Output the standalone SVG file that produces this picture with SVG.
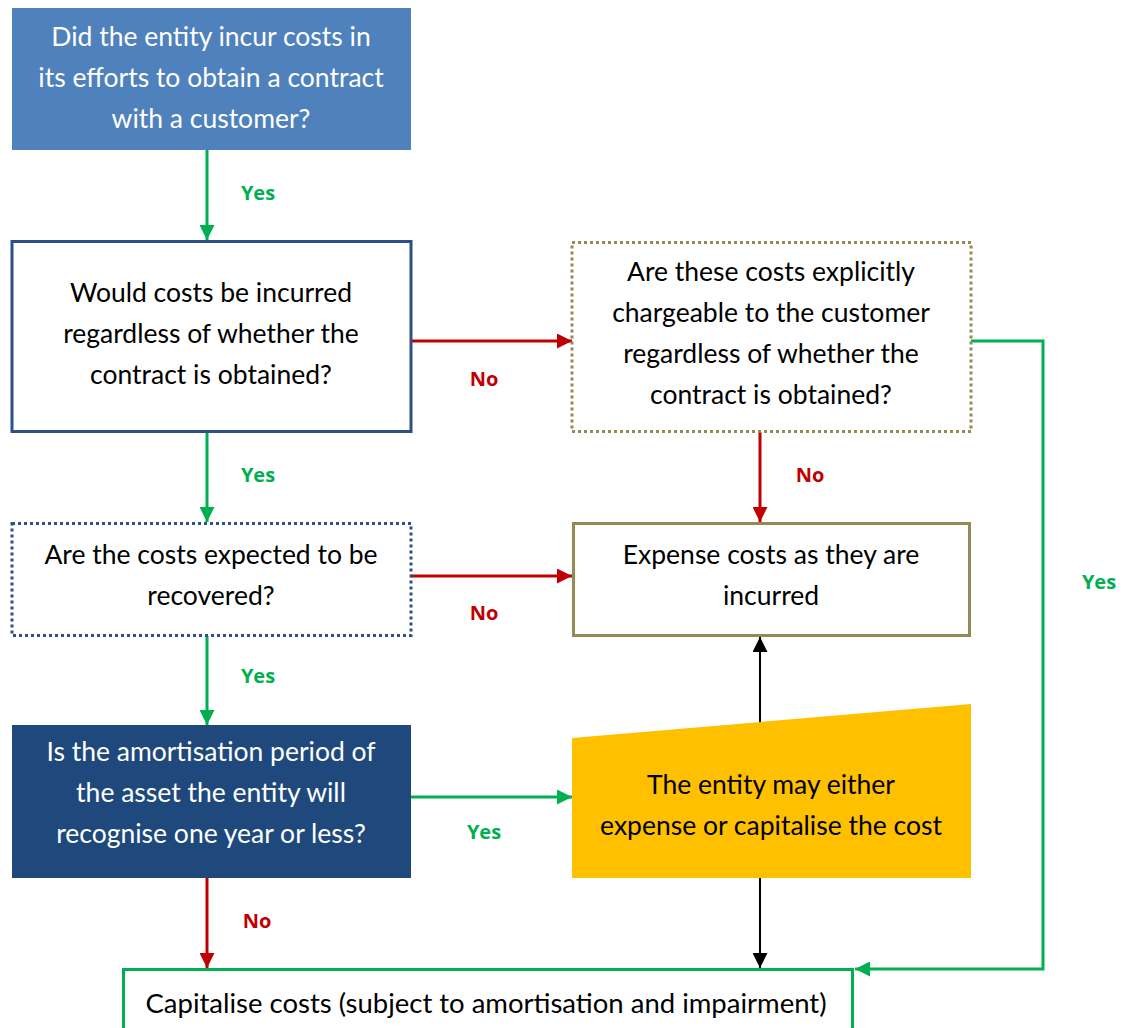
<svg xmlns="http://www.w3.org/2000/svg" width="1126" height="1028" viewBox="0 0 1126 1028">
<defs>
<style>
.t{font-family:Lato,"Open Sans","Liberation Sans",sans-serif;font-size:26.5px;text-anchor:middle;fill:#000}
.w{fill:#fff}
.lbl{font-family:"Open Sans","Liberation Sans",sans-serif;font-size:20px;font-weight:bold;text-anchor:middle}
.g{fill:#00B050}
.r{fill:#C00000}
.lg{stroke:#00B050;stroke-width:3;fill:none}
.lr{stroke:#C00000;stroke-width:3;fill:none}
.lk{stroke:#000;stroke-width:2;fill:none}
</style>
<marker id="ag" viewBox="0 0 10 10" refX="10" refY="5" markerWidth="5.5" markerHeight="5" markerUnits="strokeWidth" orient="auto"><path d="M0,0L10,5L0,10Z" fill="#00B050"/></marker>
<marker id="ar" viewBox="0 0 10 10" refX="10" refY="5" markerWidth="5.5" markerHeight="5" markerUnits="strokeWidth" orient="auto"><path d="M0,0L10,5L0,10Z" fill="#C00000"/></marker>
<marker id="ak" viewBox="0 0 10 10" refX="10" refY="5" markerWidth="7.5" markerHeight="7.5" markerUnits="strokeWidth" orient="auto"><path d="M0,0L10,5L0,10Z" fill="#000"/></marker>
</defs>
<rect width="1126" height="1028" fill="#fff"/>
<g id="connectors">
<line class="lg" x1="207" y1="150" x2="207" y2="240" marker-end="url(#ag)"/>
<line class="lr" x1="411" y1="341" x2="572" y2="341" marker-end="url(#ar)"/>
<polyline class="lg" points="971,341 1043,341 1043,969 855,969" marker-end="url(#ag)"/>
<line class="lr" x1="760" y1="432" x2="760" y2="522" marker-end="url(#ar)"/>
<line class="lg" x1="207" y1="432" x2="207" y2="522" marker-end="url(#ag)"/>
<line class="lr" x1="411" y1="576" x2="572" y2="576" marker-end="url(#ar)"/>
<line class="lg" x1="207" y1="636" x2="207" y2="725" marker-end="url(#ag)"/>
<line class="lg" x1="411" y1="797" x2="572" y2="797" marker-end="url(#ag)"/>
<line class="lk" x1="760" y1="724" x2="760" y2="637" marker-end="url(#ak)"/>
<line class="lk" x1="760" y1="878" x2="760" y2="968" marker-end="url(#ak)"/>
<line class="lr" x1="207" y1="878" x2="207" y2="968" marker-end="url(#ar)"/>
<text class="lbl g" x="258" y="200">Yes</text>
<text class="lbl r" x="484" y="386">No</text>
<text class="lbl g" x="1099" y="589">Yes</text>
<text class="lbl r" x="810" y="482">No</text>
<text class="lbl g" x="258" y="482">Yes</text>
<text class="lbl r" x="484" y="620">No</text>
<text class="lbl g" x="258" y="683">Yes</text>
<text class="lbl g" x="484" y="839">Yes</text>
<text class="lbl r" x="257" y="928">No</text>
</g>
<g id="n1">
<rect x="12" y="8" width="399" height="142" fill="#4F81BD"/>
<text class="t w" x="211" y="46">Did the entity incur costs in</text>
<text class="t w" x="211" y="87">its efforts to obtain a contract</text>
<text class="t w" x="211" y="128">with a customer?</text>
</g>
<g id="n2">
<rect x="12" y="241.5" width="399" height="190" fill="#fff" stroke="#2F5085" stroke-width="3"/>
<text class="t" x="211" y="302">Would costs be incurred</text>
<text class="t" x="211" y="343">regardless of whether the</text>
<text class="t" x="211" y="384">contract is obtained?</text>
</g>
<g id="n3">
<rect x="572" y="242.5" width="399" height="189" fill="#fff" stroke="#948A54" stroke-width="3" stroke-dasharray="3,3"/>
<text class="t" x="771" y="281">Are these costs explicitly</text>
<text class="t" x="771" y="322">chargeable to the customer</text>
<text class="t" x="771" y="363">regardless of whether the</text>
<text class="t" x="771" y="404">contract is obtained?</text>
</g>
<g id="n4">
<rect x="12" y="523.5" width="399" height="112" fill="#fff" stroke="#2F5085" stroke-width="3" stroke-dasharray="3,3"/>
<text class="t" x="211" y="564">Are the costs expected to be</text>
<text class="t" x="211" y="605">recovered?</text>
</g>
<g id="n5">
<rect x="573.5" y="523.5" width="396" height="112" fill="#fff" stroke="#948A54" stroke-width="3"/>
<text class="t" x="771" y="564">Expense costs as they are</text>
<text class="t" x="771" y="605">incurred</text>
</g>
<g id="n6">
<rect x="12" y="725" width="399" height="153" fill="#1F497D"/>
<text class="t w" x="211" y="761">Is the amortisation period of</text>
<text class="t w" x="211" y="802">the asset the entity will</text>
<text class="t w" x="211" y="843">recognise one year or less?</text>
</g>
<g id="n7">
<polygon points="572,738 971,704 971,878 572,878" fill="#FFC000"/>
<text class="t" x="771" y="794">The entity may either</text>
<text class="t" x="771" y="835">expense or capitalise the cost</text>
</g>
<g id="n8">
<rect x="123.5" y="969.5" width="729" height="70" fill="#fff" stroke="#00B050" stroke-width="3"/>
<text class="t" x="486" y="1013" textLength="681" lengthAdjust="spacingAndGlyphs">Capitalise costs (subject to amortisation and impairment)</text>
</g>
</svg>
